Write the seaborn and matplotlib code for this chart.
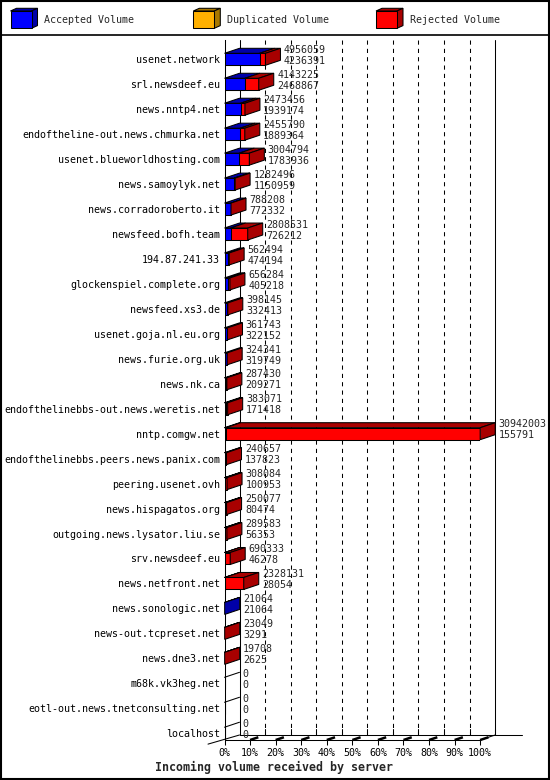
import numpy as np
import pandas as pd
import matplotlib
matplotlib.use("Agg")
import matplotlib.pyplot as plt
import seaborn as sns
from matplotlib.patches import Polygon, Rectangle
from matplotlib.lines import Line2D

# ---------------- data ----------------
servers = [
    "usenet.network", "srl.newsdeef.eu", "news.nntp4.net",
    "endoftheline-out.news.chmurka.net", "usenet.blueworldhosting.com",
    "news.samoylyk.net", "news.corradoroberto.it", "newsfeed.bofh.team",
    "194.87.241.33", "glockenspiel.complete.org", "newsfeed.xs3.de",
    "usenet.goja.nl.eu.org", "news.furie.org.uk", "news.nk.ca",
    "endofthelinebbs-out.news.weretis.net", "nntp.comgw.net",
    "endofthelinebbs.peers.news.panix.com", "peering.usenet.ovh",
    "news.hispagatos.org", "outgoing.news.lysator.liu.se", "srv.newsdeef.eu",
    "news.netfront.net", "news.sonologic.net", "news-out.tcpreset.net",
    "news.dne3.net", "m68k.vk3heg.net", "eotl-out.news.tnetconsulting.net",
    "localhost",
]
total_volume = [
    4956059, 4143225, 2473456, 2455790, 3004794, 1282496, 788208, 2808531,
    562494, 656284, 398145, 361743, 324341, 287430, 383071, 30942003,
    240657, 308084, 250077, 289583, 690333, 2328131, 21064, 23049, 19708,
    0, 0, 0,
]
accepted_volume = [
    4236391, 2468867, 1939174, 1889364, 1783936, 1150959, 772332, 726212,
    474194, 405218, 332413, 322152, 319749, 209271, 171418, 155791,
    137823, 100953, 80474, 56353, 46278, 28054, 21064, 3291, 2625,
    0, 0, 0,
]
legend_labels = ["Accepted Volume", "Duplicated Volume", "Rejected Volume"]
x_ticks = [0, 10, 20, 30, 40, 50, 60, 70, 80, 90, 100]
x_title = "Incoming volume received by server"

FRONT = {"acc": "#0000ff", "dup": "#ffb000", "rej": "#ff0000"}
SHADE = {"acc": "#0000a8", "dup": "#a87800", "rej": "#a80000"}

# ---------------- style ----------------
sns.set_style("white")
plt.rcParams["font.family"] = ["DejaVu Sans Mono"]
FS = 7.2
LW = 0.75

W, H = 550, 780
fig = plt.figure(figsize=(W / 100, H / 100), dpi=100)
fig.patch.set_facecolor("white")

x0_px, x100_px = 224.5, 480.2
top_px, floor_px = 40, 740
row0_px, row_step = 59.3, 24.96
ax = fig.add_axes([x0_px / W, 1 - floor_px / H,
                   (x100_px - x0_px) / W, (floor_px - top_px) / H])
ax.set_facecolor("none")

vmax = max(total_volume)
df = pd.DataFrame({
    "server": servers,
    "total": np.array(total_volume) / vmax * 100.0,
    "acc": np.array(accepted_volume) / vmax * 100.0,
})

BH = 0.48
common = dict(orient="h", saturation=1, width=BH, edgecolor="black",
              linewidth=LW, errorbar=None, ax=ax, zorder=3)
sns.barplot(data=df, x="total", y="server", color=FRONT["rej"], **common)
sns.barplot(data=df, x="acc", y="server", color=FRONT["acc"], **common)

dx = 15 * 100.0 / (x100_px - x0_px)
dy = -5.0 / row_step
y_top = (top_px - row0_px) / row_step
y_bot = (floor_px - row0_px) / row_step
ax.set_xlim(0, 100)
ax.set_ylim(y_bot, y_top)

# ---------------- back plane / floor ----------------
for t in x_ticks[1:-1]:
    ax.plot([t + dx, t + dx], [y_top, y_bot + dy], color="black", lw=LW,
            ls=(0, (4, 4)), zorder=1, clip_on=False)
ax.plot([dx, dx], [y_top, y_bot + dy], color="black", lw=LW, zorder=1, clip_on=False)
ax.plot([100 + dx, 100 + dx], [y_top, y_bot + dy], color="black", lw=LW, zorder=1, clip_on=False)
ax.plot([dx, 100 + dx + 10.5], [y_bot + dy, y_bot + dy], color="black", lw=LW, zorder=1, clip_on=False)
ax.plot([100, 100 + dx], [y_bot, y_bot + dy], color="black", lw=LW, zorder=1, clip_on=False)
ax.plot([-1.1 * dx, dx], [y_bot - 1.1 * dy * 0.75, y_bot + dy], color="black", lw=LW,
        zorder=1, clip_on=False)
for t in x_ticks[1:]:
    ax.plot([t + dx, t + dx], [y_bot + dy - 6 / row_step, y_bot + dy], color="black",
            lw=LW, zorder=1, clip_on=False)
    ax.plot([t, t + 0.55 * dx], [y_bot, y_bot + 0.55 * dy], color="black", lw=1.8,
            zorder=1, clip_on=False, solid_capstyle="butt")

# ---------------- 3D faces + value labels ----------------
for i, (T, A) in enumerate(zip(df["total"], df["acc"])):
    yt, yb = i - BH / 2, i + BH / 2
    if T <= 0:
        ax.plot([0, dx], [yt, yt + dy], color="black", lw=LW, zorder=4, clip_on=False)
    else:
        for a, b, k in [(0, A, "acc"), (A, T, "rej")]:
            if b > a:
                ax.add_patch(Polygon([(a, yt), (a + dx, yt + dy), (b + dx, yt + dy), (b, yt)],
                                     closed=True, fc=SHADE[k], ec="black", lw=LW,
                                     zorder=4, clip_on=False))
        side = SHADE["rej"] if T > A else SHADE["acc"]
        ax.add_patch(Polygon([(T, yt), (T + dx, yt + dy), (T + dx, yb + dy), (T, yb)],
                             closed=True, fc=side, ec="black", lw=LW, zorder=4, clip_on=False))
    tx = T + dx + 1.3
    ax.text(tx, i - 9.3 / row_step, f"{total_volume[i]}", fontsize=FS, ha="left",
            va="center", zorder=6, clip_on=False)
    ax.text(tx, i + 1.7 / row_step, f"{accepted_volume[i]}", fontsize=FS, ha="left",
            va="center", zorder=6, clip_on=False)

# ---------------- axes ----------------
ax.set_xticks(x_ticks)
ax.set_xticklabels([f"{t}%" for t in x_ticks])
ax.set_xlabel("")
ax.set_ylabel("")
ax.tick_params(axis="y", length=0, pad=3.2, labelsize=FS, colors="black")
ax.tick_params(axis="x", length=3.6, width=LW, direction="out", pad=2,
               labelsize=FS, colors="black", bottom=True)
for s in ["top", "right"]:
    ax.spines[s].set_visible(False)
for s in ["left", "bottom"]:
    ax.spines[s].set_visible(True)
    ax.spines[s].set_color("black")
    ax.spines[s].set_linewidth(LW)
ax.grid(False)

fig.text(274 / W, 1 - 767 / H, x_title, ha="center", va="center",
         fontsize=8.4, fontweight="bold")

# ---------------- legend ----------------
LEG_H = 34.5
lax = fig.add_axes([0, 1 - LEG_H / H, 1, LEG_H / H])
lax.set_xlim(0, W)
lax.set_ylim(LEG_H, 0)
lax.axis("off")
for x, key, lab in zip([10.5, 193.3, 376.0], ["acc", "dup", "rej"], legend_labels):
    fy, fw, fh, ldx, ldy = 11.0, 21, 17.3, 6, -2.7
    lax.add_patch(Polygon([(x, fy), (x + ldx, fy + ldy), (x + fw + ldx, fy + ldy), (x + fw, fy)],
                          closed=True, fc=SHADE[key], ec="black", lw=LW))
    lax.add_patch(Polygon([(x + fw, fy), (x + fw + ldx, fy + ldy), (x + fw + ldx, fy + fh + ldy),
                           (x + fw, fy + fh)], closed=True, fc=SHADE[key], ec="black", lw=LW))
    lax.add_patch(Rectangle((x, fy), fw, fh, fc=FRONT[key], ec="black", lw=LW))
    lax.text(x + 34, 20, lab, fontsize=FS, ha="left", va="center")

fig.add_artist(Line2D([0, 1], [1 - LEG_H / H] * 2, transform=fig.transFigure,
                      color="black", lw=1.2))
fig.add_artist(Rectangle((0.001, 0.001), 0.998, 0.998, transform=fig.transFigure,
                         fill=False, ec="black", lw=1.5))

fig.savefig("out.png", dpi=100)
